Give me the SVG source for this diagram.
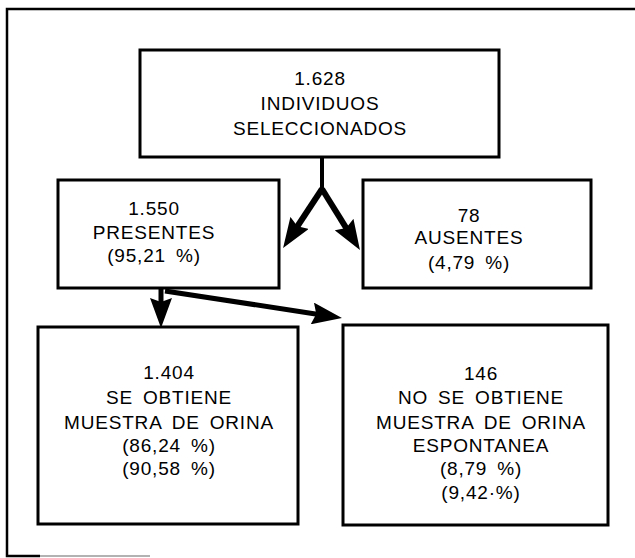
<svg xmlns="http://www.w3.org/2000/svg" width="635" height="558" viewBox="0 0 635 558">
<style>
.frame{fill:none;stroke:#000;stroke-width:2.5}
.box{fill:#fff;stroke:#000;stroke-width:3}
.t{font-family:"Liberation Sans",Arial,sans-serif;font-size:19px;letter-spacing:0.8px;word-spacing:4px;fill:#000;text-anchor:middle}
.conn{fill:none;stroke:#000;stroke-linejoin:round}
</style>
<defs>
<marker id="head" viewBox="0 0 30 22" refX="18" refY="11" markerWidth="30" markerHeight="22" markerUnits="userSpaceOnUse" orient="auto">
<path d="M0,0 L30,11 L0,22 L4,11 Z" fill="#000"/>
</marker>
</defs>
<rect width="635" height="558" fill="#fff"/>
<g id="frame">
<path class="frame" d="M635,9 L7,9 L7,556 L40,556"/>
<line x1="40" y1="556" x2="150" y2="556" stroke="#999" stroke-width="1.5"/>
</g>
<g id="connectors">
<path class="conn" stroke-width="4" d="M322,157 L322,191"/>
<path class="conn" stroke-width="6" d="M322,189 L289.7,238" marker-end="url(#head)"/>
<path class="conn" stroke-width="6" d="M322,189 L353.6,239.9" marker-end="url(#head)"/>
<path class="conn" stroke-width="5" d="M161,288 L161,316" marker-end="url(#head)"/>
<path class="conn" stroke-width="5" d="M165,291 L330.1,316.2" marker-end="url(#head)"/>
</g>
<g id="seleccionados">
<rect class="box" x="140" y="50" width="359" height="107"/>
<text class="t" x="320" y="85">1.628</text>
<text class="t" x="320" y="110">INDIVIDUOS</text>
<text class="t" x="320" y="135">SELECCIONADOS</text>
</g>
<g id="presentes">
<rect class="box" x="58" y="180" width="221" height="108"/>
<text class="t" x="154" y="215">1.550</text>
<text class="t" x="154" y="239">PRESENTES</text>
<text class="t" x="154" y="262">(95,21 %)</text>
</g>
<g id="ausentes">
<rect class="box" x="363" y="180" width="228" height="108"/>
<text class="t" x="469" y="222">78</text>
<text class="t" x="469" y="244">AUSENTES</text>
<text class="t" x="469" y="269">(4,79 %)</text>
</g>
<g id="obtiene">
<rect class="box" x="38" y="327" width="260" height="197"/>
<text class="t" x="169" y="379">1.404</text>
<text class="t" x="169" y="404">SE OBTIENE</text>
<text class="t" x="169" y="429">MUESTRA DE ORINA</text>
<text class="t" x="169" y="452">(86,24 %)</text>
<text class="t" x="169" y="475">(90,58 %)</text>
</g>
<g id="no-obtiene">
<rect class="box" x="343" y="325" width="265" height="200"/>
<text class="t" x="481" y="380">146</text>
<text class="t" x="481" y="404">NO SE OBTIENE</text>
<text class="t" x="481" y="429">MUESTRA DE ORINA</text>
<text class="t" x="481" y="452">ESPONTANEA</text>
<text class="t" x="481" y="475">(8,79 %)</text>
<text class="t" x="481" y="499">(9,42·%)</text>
</g>
</svg>
